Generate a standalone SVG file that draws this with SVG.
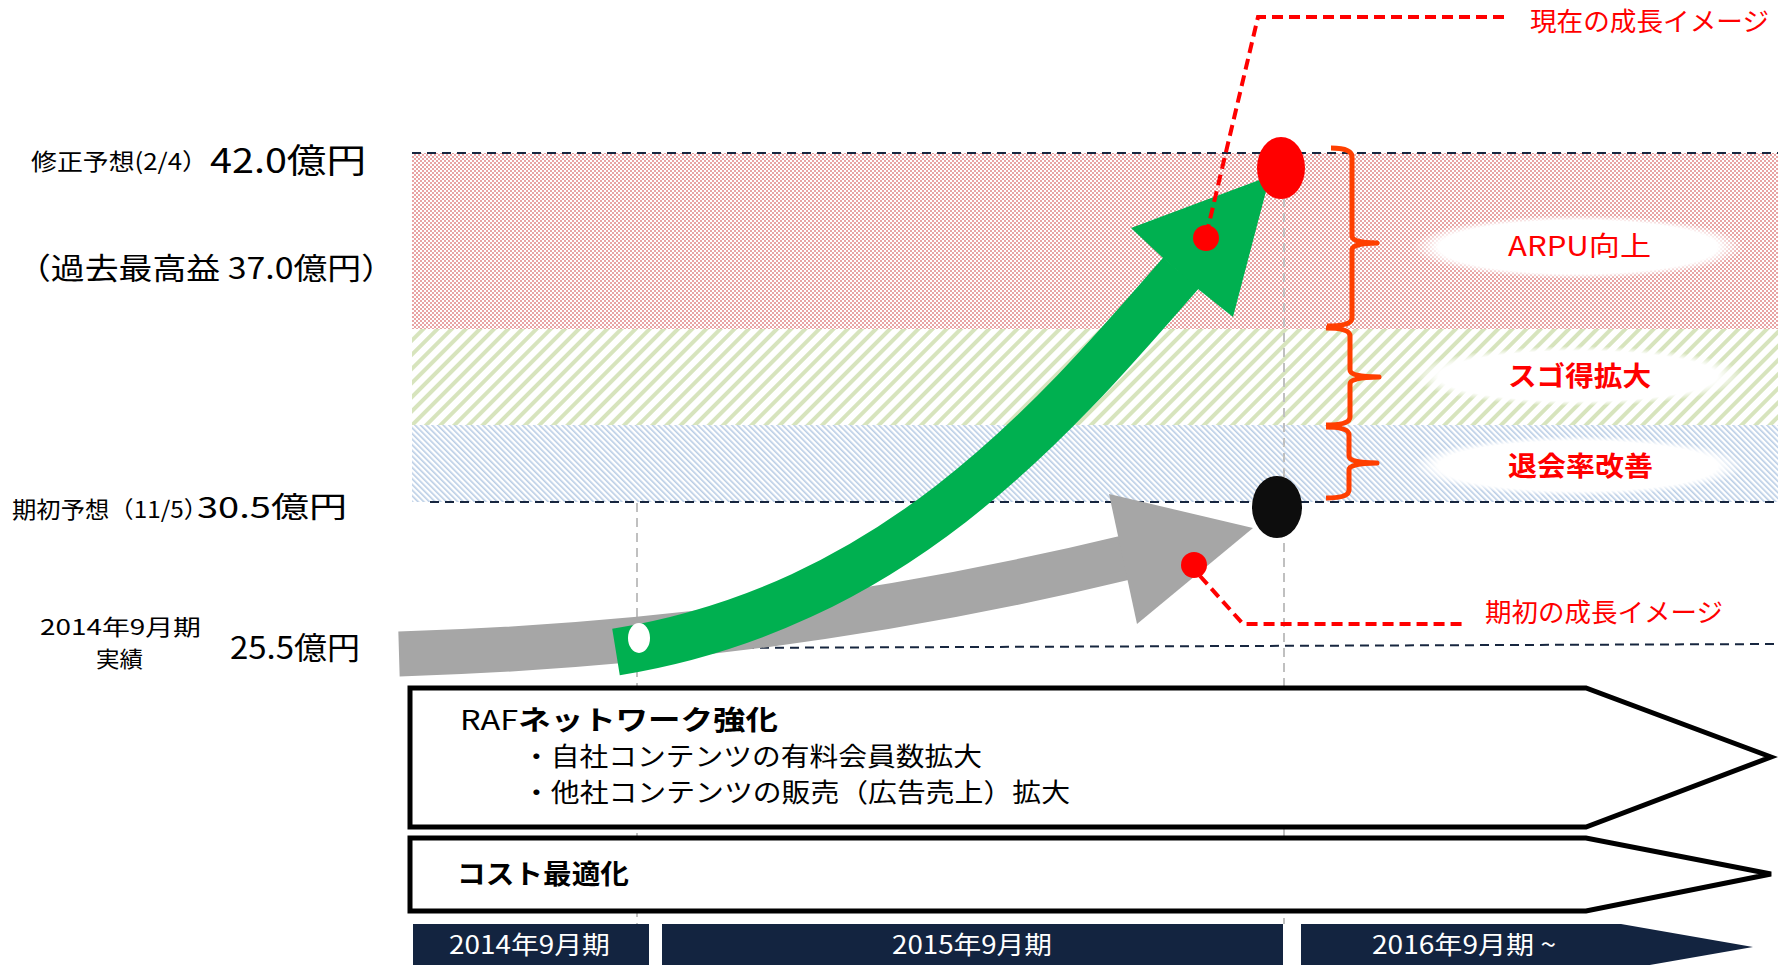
<svg xmlns="http://www.w3.org/2000/svg" width="1778" height="965" viewBox="0 0 1778 965">
<style>
  text { font-family: "Noto Sans CJK JP", "Liberation Sans", sans-serif; }
  .jp { fill: #000; }
  .red { fill: #FF0000; }
  .b { font-weight: bold; }
  .hdash { stroke: #17263F; stroke-width: 2; stroke-dasharray: 9 6; fill: none; }
  .vdash { stroke: #C0C0C0; stroke-width: 2; stroke-dasharray: 9 6; fill: none; }
  .lead { stroke: #FF0000; stroke-width: 4; stroke-dasharray: 11 6; fill: none; }
  .brace { stroke: #FF3F00; stroke-width: 5; fill: none; stroke-linejoin: round; }
  .box { fill: #FFFFFF; stroke: #000000; stroke-width: 5; stroke-linejoin: miter; }
  .bar { fill: #132440; }
  .bartxt { fill: #FFFFFF; font-size: 25px; }
</style>
<defs>
  <pattern id="pRed" patternUnits="userSpaceOnUse" width="4" height="4">
    <rect width="4" height="4" fill="#FFFFFF"/>
    <rect x="0" y="0" width="2" height="2" fill="#E8A4A4"/>
    <rect x="2" y="2" width="2" height="2" fill="#E8A4A4"/>
  </pattern>
  <pattern id="pGreen" patternUnits="userSpaceOnUse" width="10" height="10" patternTransform="rotate(45)">
    <rect width="10" height="10" fill="#FFFFFF"/>
    <rect x="0" y="0" width="4" height="10" fill="#D7E4BD"/>
  </pattern>
  <pattern id="pBlue" patternUnits="userSpaceOnUse" width="4" height="4" patternTransform="rotate(-45)">
    <rect width="4" height="4" fill="#FFFFFF"/>
    <rect x="0" y="0" width="1.6" height="4" fill="#B9CDE5"/>
  </pattern>
  <radialGradient id="gSoft" cx="0.5" cy="0.5" r="0.5">
    <stop offset="0.84" stop-color="#FFFFFF" stop-opacity="1"/>
    <stop offset="1" stop-color="#FFFFFF" stop-opacity="0"/>
  </radialGradient>
</defs>

<g id="bands">
  <rect x="412" y="153" width="1366" height="176" fill="url(#pRed)"/>
  <rect x="412" y="329" width="1366" height="96" fill="url(#pGreen)"/>
  <rect x="412" y="425" width="1366" height="77" fill="url(#pBlue)"/>
</g>

<g id="gridlines">
  <line class="hdash" x1="412" y1="153" x2="1778" y2="153"/>
  <line class="hdash" x1="430" y1="502" x2="1778" y2="502"/>
  <line class="hdash" x1="430" y1="649" x2="1778" y2="644"/>
  <line class="vdash" x1="637" y1="503" x2="637" y2="924"/>
  <line class="vdash" x1="1284" y1="198" x2="1284" y2="924"/>
</g>

<g id="label-ellipses">
  <ellipse cx="1578" cy="247" rx="166" ry="32" fill="url(#gSoft)"/>
  <ellipse cx="1578" cy="376" rx="166" ry="30" fill="url(#gSoft)"/>
  <ellipse cx="1578" cy="466" rx="166" ry="30" fill="url(#gSoft)"/>
</g>

<g id="gray-arrow">
  <path d="M399,654 Q773,643 1124,558" fill="none" stroke="#A6A6A6" stroke-width="45" stroke-linecap="butt"/>
  <polygon points="1109,494 1253,528 1137,624" fill="#A6A6A6"/>
</g>

<g id="green-arrow">
  <path d="M616,652 C892,607 1049,425 1181,273" fill="none" stroke="#00B050" stroke-width="47" stroke-linecap="butt"/>
  <polygon points="1131,228 1270,176 1233,317 1198,289 1163,258" fill="#00B050"/>
</g>

<g id="markers">
  <ellipse id="start-dot" cx="639" cy="638" rx="11" ry="15" fill="#FFFFFF"/>
  <ellipse id="target-now" cx="1281" cy="168" rx="24" ry="31" fill="#FF0000"/>
  <ellipse id="target-init" cx="1277" cy="507" rx="25" ry="31" fill="#0D0D0D"/>
  <circle id="dot-now" cx="1206" cy="238" r="13" fill="#FF0000"/>
  <circle id="dot-init" cx="1194" cy="565" r="13" fill="#FF0000"/>
</g>

<g id="connectors">
  <path class="lead" d="M1504,17 L1258,17 L1207,232"/>
  <path class="lead" d="M1200,576 L1243,624 L1465,624"/>
  <path class="brace" d="M1331,148 Q1352,148 1352,157 L1352,236 Q1352,243 1377,243 Q1352,243 1352,250 L1352,318 Q1352,326 1327,326"/>
  <path class="brace" d="M1326,328 Q1350,328 1350,336 L1350,370 Q1350,377 1379,377 Q1350,377 1350,384 L1350,417 Q1350,425 1326,425"/>
  <path class="brace" d="M1326,427 Q1349,427 1349,435 L1349,456 Q1349,463 1377,463 Q1349,463 1349,470 L1349,490 Q1349,498 1326,498"/>
</g>

<g id="callouts">
  <text class="red" x="1530" y="31" font-size="26" textLength="239" lengthAdjust="spacingAndGlyphs">現在の成長イメージ</text>
  <text class="red" x="1485" y="622" font-size="26" textLength="238" lengthAdjust="spacingAndGlyphs">期初の成長イメージ</text>
</g>

<g id="node-arpu"><text class="red" x="1508" y="256" font-size="27" textLength="143" lengthAdjust="spacingAndGlyphs">ARPU向上</text></g>
<g id="node-sugotoku"><text class="red b" x="1508" y="386" font-size="27" textLength="143" lengthAdjust="spacingAndGlyphs">スゴ得拡大</text></g>
<g id="node-churn"><text class="red b" x="1508" y="476" font-size="27" textLength="145" lengthAdjust="spacingAndGlyphs">退会率改善</text></g>

<g id="axis-labels">
  <text class="jp" x="31" y="170" font-size="23" textLength="177" lengthAdjust="spacingAndGlyphs">修正予想(2/4）</text>
  <text class="jp" x="210" y="173" font-size="34" textLength="156" lengthAdjust="spacingAndGlyphs">42.0億円</text>
  <text class="jp" x="17" y="279" font-size="30" textLength="378" lengthAdjust="spacingAndGlyphs">（過去最高益 37.0億円）</text>
  <text class="jp" x="12" y="518" font-size="23" textLength="196" lengthAdjust="spacingAndGlyphs">期初予想（11/5）</text>
  <text class="jp" x="197" y="518" font-size="29" textLength="150" lengthAdjust="spacingAndGlyphs">30.5億円</text>
  <text class="jp" x="40" y="635" font-size="22" textLength="161" lengthAdjust="spacingAndGlyphs">2014年9月期</text>
  <text class="jp" x="96" y="667" font-size="22" textLength="47" lengthAdjust="spacingAndGlyphs">実績</text>
  <text class="jp" x="230" y="659" font-size="31" textLength="130" lengthAdjust="spacingAndGlyphs">25.5億円</text>
</g>

<g id="node-raf">
  <path class="box" d="M410,688 L1586,688 L1771,757 L1586,827 L410,827 Z"/>
  <text class="jp" x="460" y="730" font-size="27" textLength="318" lengthAdjust="spacingAndGlyphs">RAF<tspan class="b">ネットワーク強化</tspan></text>
  <text class="jp" x="522" y="766" font-size="26" textLength="460" lengthAdjust="spacingAndGlyphs">・自社コンテンツの有料会員数拡大</text>
  <text class="jp" x="522" y="802" font-size="26" textLength="548" lengthAdjust="spacingAndGlyphs">・他社コンテンツの販売（広告売上）拡大</text>
</g>

<g id="node-cost">
  <path class="box" d="M410,838 L1586,838 L1771,874 L1586,911 L410,911 Z"/>
  <text class="jp b" x="457" y="884" font-size="27" textLength="172" lengthAdjust="spacingAndGlyphs">コスト最適化</text>
</g>

<g id="node-fy2014">
  <rect class="bar" x="413" y="924" width="236" height="46"/>
  <text class="bartxt" x="449" y="954" textLength="161" lengthAdjust="spacingAndGlyphs">2014年9月期</text>
</g>
<g id="node-fy2015">
  <rect class="bar" x="662" y="924" width="621" height="46"/>
  <text class="bartxt" x="892" y="954" textLength="160" lengthAdjust="spacingAndGlyphs">2015年9月期</text>
</g>
<g id="node-fy2016">
  <polygon class="bar" points="1301,924 1621,924 1753,947 1621,970 1301,970"/>
  <text class="bartxt" x="1372" y="954" textLength="184" lengthAdjust="spacingAndGlyphs">2016年9月期 ~</text>
</g>
</svg>
